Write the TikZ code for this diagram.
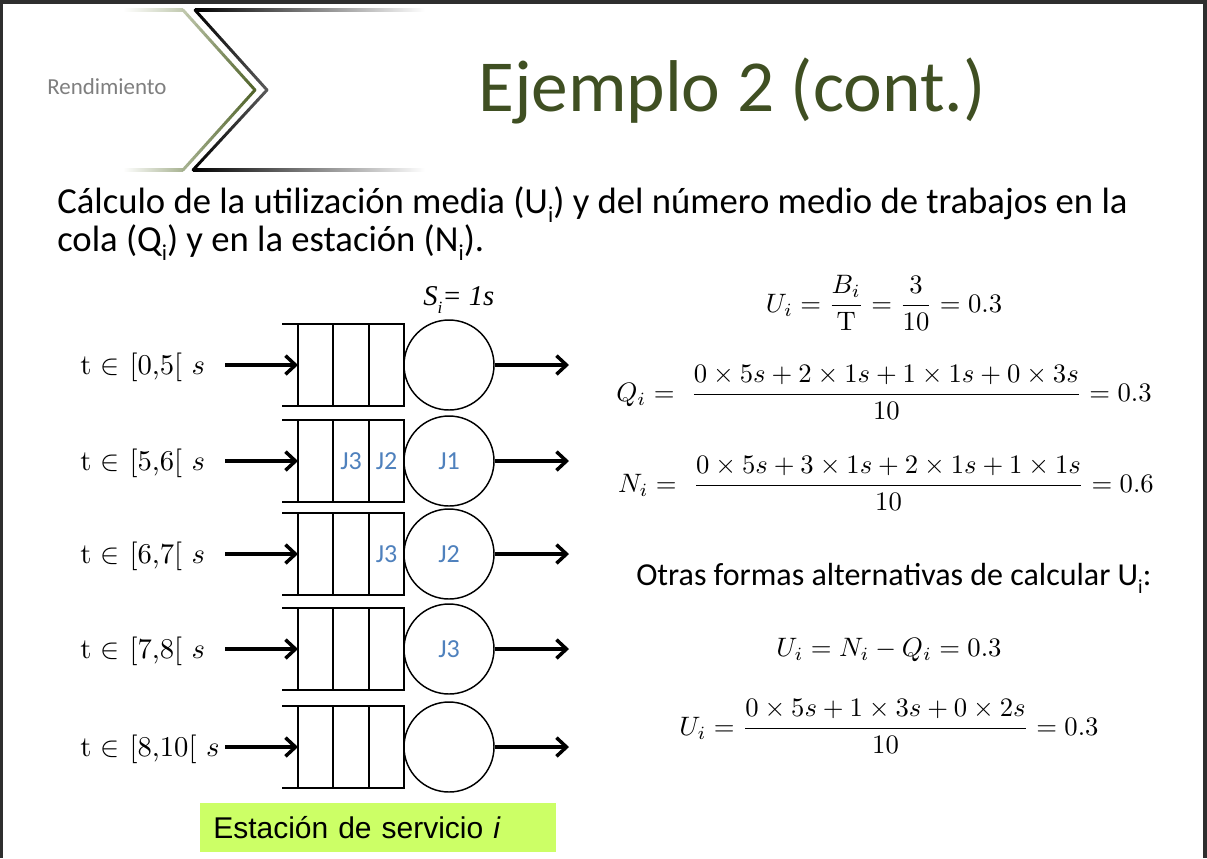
\documentclass[tikz,border=0pt]{standalone}
\usepackage{fontspec}
\newfontfamily\slidefont{Carlito}
\newfontfamily\boxfont{Liberation Sans}
\newfontfamily\serifit{Liberation Serif}
\usetikzlibrary{arrows.meta,calc}

\definecolor{framegrey}{HTML}{2E2E2E}
\definecolor{titlegreen}{HTML}{3F4F22}
\definecolor{olivedark}{HTML}{4F6228}
\definecolor{olivelight}{HTML}{C2CAB0}
\definecolor{olivemid}{HTML}{A8B392}
\definecolor{chevgrey}{HTML}{5A5A5A}
\definecolor{jobblue}{HTML}{4F81BD}
\definecolor{limebox}{HTML}{CCFF66}
\definecolor{greytext}{HTML}{7F7F7F}

% straight line drawn in small pieces, colour running from #3 to #4
\newcommand{\fadeline}[4]{%
  \foreach \k in {0,...,15}{%
    \pgfmathsetmacro{\ta}{\k/16}%
    \pgfmathsetmacro{\tb}{(\k+1)/16}%
    \pgfmathtruncatemacro{\pc}{100*(\k+0.5)/16}%
    \draw[line width=2.2pt, line cap=round, color=#4!\pc!#3]
      ($(#1)!\ta!(#2)$) -- ($(#1)!\tb!(#2)$);
  }}
% formulas are set at 10pt and enlarged
\newcommand{\bigeq}[1]{\scalebox{2}{$\displaystyle #1$}}
% low, small index letter as in the running text
\newcommand{\lowi}{\raisebox{-0.27em}{\scalebox{0.62}{i}}}

\tikzset{
  body/.style={anchor=base west, inner sep=0, font=\slidefont\fontsize{27.5pt}{33pt}\selectfont},
  eq/.style={anchor=base, inner sep=0},
  lbl/.style={anchor=base west, inner sep=0},
  job/.style={inner sep=0, text=jobblue, font=\slidefont\fontsize{19.5pt}{22pt}\selectfont},
  station/.style={circle, draw, line width=1.1pt, inner sep=0, minimum size=67.5pt},
  qline/.style={line width=1.1pt},
  arr/.style={line width=2.6pt, -{Straight Barb[length=7.5pt,width=14pt]}},
}

\begin{document}
\begin{tikzpicture}[x=0.75pt,y=-0.75pt]
% page and frame
\fill[white] (0,0) rectangle (1207,858);
\useasboundingbox (0,0) rectangle (1207,858);
\fill[framegrey] (0,0) rectangle (1207,4);
\fill[framegrey] (0,0) rectangle (3,858);
\fill[framegrey] (1203,0) rectangle (1207,858);

% header chevrons
\coordinate (g1) at (183,10);
\coordinate (g2) at (255,90);
\coordinate (g3) at (183,170);
\coordinate (b1) at (195,10);
\coordinate (b2) at (267,90);
\coordinate (b3) at (193,170);
\shade[left color=white, right color=olivelight] (123,8.5) rectangle (183,11.5);
\shade[left color=white, right color=olivemid] (123,168.5) rectangle (183,171.5);
\fadeline{g1}{g2}{olivelight}{olivedark}
\fadeline{g2}{g3}{olivedark}{olivemid}
\shade[left color=black, middle color=black!55, right color=white] (195,8.5) rectangle (425,11.5);
\shade[left color=black, middle color=black!55, right color=white] (193,168.5) rectangle (425,171.5);
\fadeline{b1}{b2}{black}{chevgrey}
\fadeline{b2}{b3}{chevgrey}{black}

\node[anchor=base west, inner sep=0, text=greytext, font=\slidefont\fontsize{17.2pt}{20pt}\selectfont] (section) at (47,94) {Rendimiento};
\node[anchor=base west, inner sep=0, text=titlegreen, font=\slidefont\fontsize{55pt}{60pt}\selectfont] (title) at (478,111) {Ejemplo 2 (cont.)};

% introduction
\node[body] (intro1) at (57,213) {Cálculo de la utilización media (U\lowi) y del número medio de trabajos en la};
\node[body] (intro2) at (57,251) {cola (Q\lowi) y en la estación (N\lowi).};

% service time
\node[anchor=base west, inner sep=0, font=\serifit\itshape\fontsize{21.5pt}{24pt}\selectfont] (stime) at (423,305) {S\raisebox{-0.3em}{\scalebox{0.6}{i}}= 1s};

% the station at five moments
\foreach \r/\y/\lab in {1/365/{[0,5[},2/461/{[5,6[},3/554/{[6,7[},4/649/{[7,8[},5/747/{[8,10[}}{
  \node[lbl] (l\r) at (80,\y+9) {\scalebox{2.15}{t $\in$ \lab\ $s$}};
  \draw[qline] (282,\y-41) -- (404,\y-41) -- (404,\y+41) -- (282,\y+41);
  \draw[qline] (298,\y-41) -- (298,\y+41);
  \draw[qline] (333,\y-41) -- (333,\y+41);
  \draw[qline] (369,\y-41) -- (369,\y+41);
  \node[station] (s\r) at (449,\y) {};
  \coordinate (a\r) at (225,\y);
  \coordinate (q\r) at (298,\y);
  \coordinate (o\r) at (569,\y);
  \draw[arr] (a\r) -- (q\r);
  \draw[arr] (s\r) -- (o\r);
}

% jobs in the system
\node[job] (j3a) at (351,461) {J3};
\node[job] (j2a) at (386.5,461) {J2};
\node[job] at (s2) {J1};
\node[job] (j3b) at (386.5,554) {J3};
\node[job] at (s3) {J2};
\node[job] at (s4) {J3};

\node[fill=limebox, anchor=north west, inner xsep=9.75pt, inner ysep=0, text width=247.5pt,
      minimum height=36.75pt, align=left, font=\boxfont\fontsize{22.5pt}{26pt}\selectfont] (station) at (200,803) {Estación de servicio \textit{i}};

% formulas
\node[eq] (ueq) at (884,312) {\bigeq{U_i = \frac{B_i}{\mathrm{T}} = \frac{3}{10} = 0.3}};
\node[eq] (qeq) at (884,401) {\bigeq{Q_i =\ \frac{0\times 5s+2\times 1s+1\times 1s+0\times 3s}{10} = 0.3}};
\node[eq] (neq) at (886,492) {\bigeq{N_i =\ \frac{0\times 5s+3\times 1s+2\times 1s+1\times 1s}{10} = 0.6}};
\node[body, font=\slidefont\fontsize{24pt}{29pt}\selectfont] (otras) at (636,585) {Otras formas alternativas de calcular U\lowi:};
\node[eq] (ueq2) at (889,656) {\bigeq{U_i = N_i - Q_i = 0.3}};
\node[eq] (ueq3) at (889,735) {\bigeq{U_i = \frac{0\times 5s+1\times 3s+0\times 2s}{10} = 0.3}};
\end{tikzpicture}
\end{document}
